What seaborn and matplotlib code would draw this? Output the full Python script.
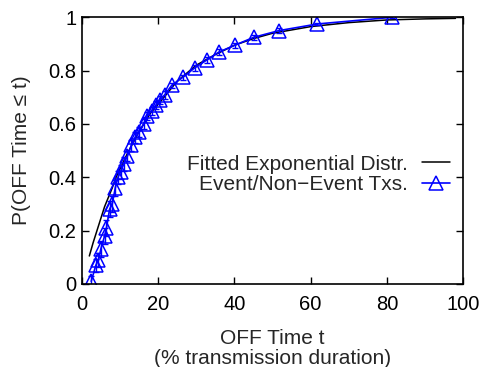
import numpy as np
import pandas as pd
import matplotlib
matplotlib.use("Agg")
import matplotlib.pyplot as plt
import seaborn as sns

off_time = [2.5, 3.7, 4.4, 5.0, 6.0, 6.5, 7.3, 8.0, 8.8, 9.5, 10.2, 11.0, 12.0,
            13.0, 14.0, 15.1, 16.2, 17.2, 18.3, 19.4, 20.5, 21.8, 23.6, 26.5,
            29.6, 32.8, 36.0, 40.1, 45.1, 51.7, 61.8, 81.4]
cdf = [0.01, 0.07, 0.09, 0.13, 0.18, 0.21, 0.28, 0.30, 0.36, 0.40, 0.42, 0.45,
       0.48, 0.52, 0.55, 0.57, 0.60, 0.63, 0.65, 0.67, 0.69, 0.71, 0.745, 0.775,
       0.81, 0.84, 0.87, 0.895, 0.925, 0.95, 0.975, 1.0]
cdf_err = [0.02, 0.025, 0.025, 0.03, 0.03, 0.03, 0.03, 0.03, 0.03, 0.025, 0.025,
           0.025, 0.02, 0.02, 0.02, 0.02, 0.02, 0.015, 0.015, 0.015, 0.015, 0.015,
           0.01, 0.01, 0.01, 0.01, 0.01, 0.01, 0.01, 0.008, 0.005, 0.003]

# fitted exponential curve
fit_t = [2, 3, 4, 5, 6, 7, 8, 9, 10, 12, 15, 18, 21, 25, 30, 35, 40, 45, 50,
         60, 70, 80, 90, 98]
fit_cdf = [0.105, 0.155, 0.20, 0.245, 0.29, 0.325, 0.36, 0.40, 0.43, 0.49, 0.57,
           0.64, 0.69, 0.76, 0.82, 0.86, 0.895, 0.92, 0.94, 0.965, 0.98, 0.99,
           0.994, 0.996]

x_ticks = [0, 20, 40, 60, 80, 100]
y_ticks = [0, 0.2, 0.4, 0.6, 0.8, 1.0]
y_tick_labels = ["0", "0.2", "0.4", "0.6", "0.8", "1"]

sns.set_style("ticks")
plt.rcParams["font.family"] = ["Liberation Sans", "DejaVu Sans"]
plt.rcParams["font.size"] = 15

fig = plt.figure(figsize=(4.84, 3.67), dpi=100)
ax = fig.add_axes([0.1688, 0.2262, 0.7882, 0.7267])

fit_df = pd.DataFrame({"t": fit_t, "p": fit_cdf})
sns.lineplot(data=fit_df, x="t", y="p", ax=ax, color="black", linewidth=1.1,
             label="Fitted Exponential Distr.")

ax.errorbar(off_time, cdf, yerr=cdf_err, fmt="none", ecolor="blue",
            elinewidth=1.0, capsize=2.5, capthick=1.0)
data_df = pd.DataFrame({"t": off_time, "p": cdf})
sns.lineplot(data=data_df, x="t", y="p", ax=ax, color="blue", linewidth=1.2,
             marker="^", markersize=10, markerfacecolor="none",
             markeredgecolor="blue", markeredgewidth=1.1,
             label="Event/Non\u2212Event Txs.")

ax.set_xlim(0, 100)
ax.set_ylim(0, 1)
ax.set_xticks(x_ticks)
ax.set_xticklabels([str(v) for v in x_ticks])
ax.set_yticks(y_ticks)
ax.set_yticklabels(y_tick_labels)
ax.tick_params(direction="in", length=5, width=1, top=True, right=True,
               labelsize=14.5, colors="black")
ax.tick_params(axis="x", pad=8)
ax.tick_params(axis="y", pad=4)
for s in ax.spines.values():
    s.set_linewidth(1.2)
    s.set_color("black")

ax.set_xlabel("OFF Time t\n(% transmission duration)", fontsize=15,
              linespacing=1.05, labelpad=11)
ax.set_ylabel("P(OFF Time \u2264 t)", fontsize=15, labelpad=12)

leg = ax.legend(loc="upper right", bbox_to_anchor=(0.965, 0.485), frameon=False,
                markerfirst=False, handlelength=1.35, handletextpad=0.67,
                labelspacing=0.08, fontsize=15, borderaxespad=0, borderpad=0)
for t in leg.get_texts():
    t.set_ha("right")

fig.savefig("out.png", dpi=100)
